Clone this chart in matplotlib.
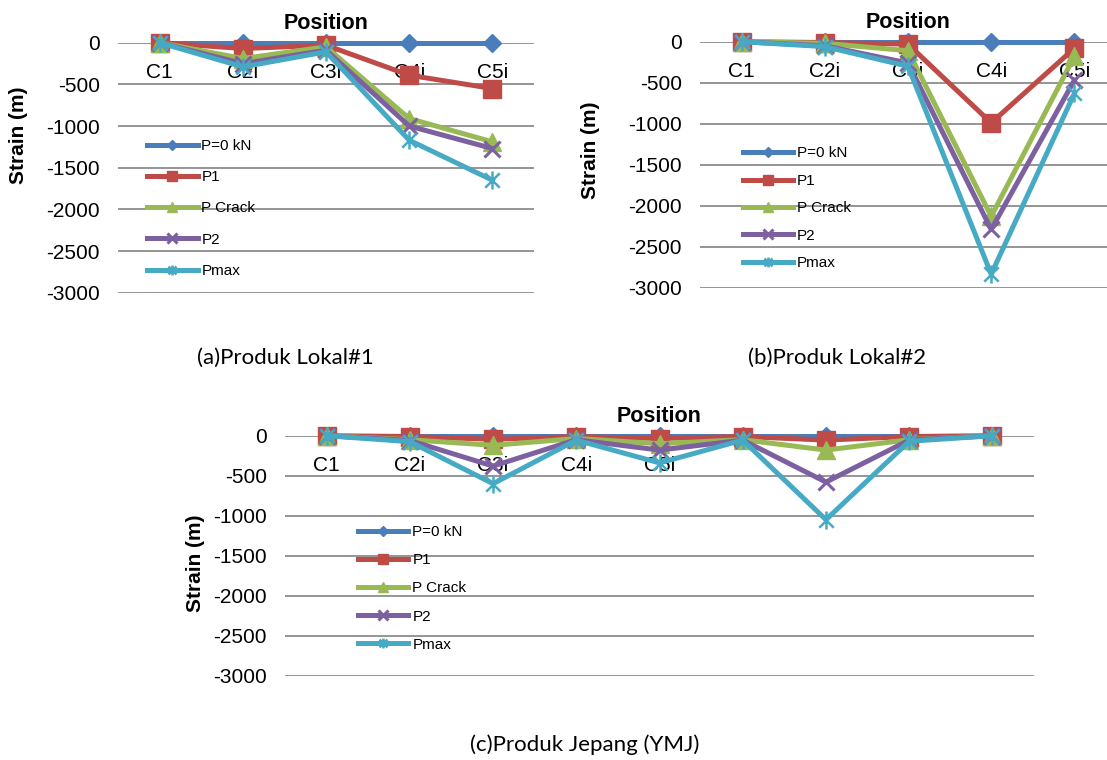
import matplotlib
matplotlib.use("Agg")
import matplotlib.pyplot as plt
from matplotlib.path import Path

# ---------------- data ----------------
series_names = ["P=0 kN", "P1", "P Crack", "P2", "Pmax"]

cats_a = ["C1", "C2i", "C3i", "C4i", "C5i"]
a_p0 = [0, 0, 0, 0, 0]
a_p1 = [0, -70, -30, -390, -550]
a_pcrack = [0, -190, -50, -910, -1190]
a_p2 = [0, -250, -90, -1000, -1270]
a_pmax = [0, -290, -110, -1170, -1650]

cats_b = ["C1", "C2i", "C3i", "C4i", "C5i"]
b_p0 = [0, 0, 0, 0, 0]
b_p1 = [0, -10, -30, -990, -80]
b_pcrack = [0, -20, -110, -2130, -180]
b_p2 = [0, -50, -260, -2290, -470]
b_pmax = [0, -60, -300, -2835, -630]

cats_c = ["C1", "C2i", "C3i", "C4i", "C5i", "", "", "", ""]
c_p0 = [0, 0, 0, 0, 0, 0, 0, 0, 0]
c_p1 = [0, -10, -45, -10, -35, -10, -55, -10, 0]
c_pcrack = [0, -50, -120, -35, -100, -50, -180, -50, 0]
c_p2 = [0, -60, -380, -50, -180, -55, -580, -55, 0]
c_pmax = [0, -75, -600, -55, -340, -55, -1050, -70, 0]

yticks = [0, -500, -1000, -1500, -2000, -2500, -3000]
captions = ["(a)Produk Lokal#1", "(b)Produk Lokal#2", "(c)Produk Jepang (YMJ)"]

# ---------------- style ----------------
plt.rcParams['font.family'] = ['Liberation Sans', 'DejaVu Sans']
colors = ["#4A7EBB", "#BE4B48", "#98B954", "#7D60A0", "#46AAC5"]
asterisk = Path([(-1, -1), (1, 1), (-1, 1), (1, -1), (0, -1.25), (0, 1.25)],
                [Path.MOVETO, Path.LINETO] * 3)
marker_kw = [
    dict(marker="D", markersize=9.5, mfc=colors[0], mec=colors[0]),
    dict(marker="s", markersize=13, mfc=colors[1], mec=colors[1]),
    dict(marker="^", markersize=13, mfc=colors[2], mec=colors[2]),
    dict(marker="x", markersize=12, mec=colors[3], mew=2.2),
    dict(marker=asterisk, markersize=13, mfc="none", mec=colors[4], mew=1.8),
]

fig = plt.figure(figsize=(11.07, 7.6), dpi=100)
W, H = 1107.0, 760.0


def make_axes(left, top, width, height):
    return fig.add_axes([left / W, 1 - (top + height) / H, width / W, height / H])


def draw_panel(ax, cats, data, legend_xy, label_xy, spacing):
    x = list(range(len(cats)))
    for i, (name, vals) in enumerate(zip(series_names, data)):
        ax.plot(x, vals, color=colors[i], lw=3.6, label=name, zorder=3 + i,
                clip_on=False, **marker_kw[i])
    ax.set_xlim(-0.5, len(cats) - 0.5)
    ax.set_ylim(-3000, 0)
    ax.set_yticks(yticks)
    ax.set_yticklabels([str(v) for v in yticks])
    ax.set_xticks(x)
    ax.set_xticklabels(cats)
    ax.xaxis.set_ticks_position('top')
    ax.tick_params(axis='x', length=0, pad=-28, labelsize=15)
    ax.tick_params(axis='y', length=0, pad=13, labelsize=15)
    for s in ax.spines.values():
        s.set_visible(False)
    ax.yaxis.grid(True, color="#8C8C8C", lw=1.3)
    ax.set_axisbelow(True)
    ax.set_title("Position", fontsize=15.5, fontweight="bold", pad=10)
    ax.set_ylabel("Strain (m)", fontsize=15, fontweight="bold")
    ax.yaxis.set_label_coords(*label_xy)
    ax.legend(loc="upper left", bbox_to_anchor=legend_xy, frameon=False,
              fontsize=11, handlelength=3.3, handletextpad=0.25,
              labelspacing=spacing, borderpad=0, borderaxespad=0,
              markerscale=0.55)


ax_a = make_axes(118, 42.7, 416, 250)
draw_panel(ax_a, cats_a, [a_p0, a_p1, a_pcrack, a_p2, a_pmax],
           (0.07, 0.615), (-0.217, 0.63), 1.13)

ax_b = make_axes(700, 41.7, 416, 246)
draw_panel(ax_b, cats_b, [b_p0, b_p1, b_pcrack, b_p2, b_pmax],
           (0.103, 0.574), (-0.24, 0.56), 0.88)

ax_c = make_axes(285, 435.7, 749, 240)
draw_panel(ax_c, cats_c, [c_p0, c_p1, c_pcrack, c_p2, c_pmax],
           (0.0975, 0.628), (-0.107, 0.47), 0.93)

cap_kw = dict(fontsize=16, family=['Lato', 'DejaVu Sans'], ha='center', va='center')
fig.text(285 / W, 1 - 358 / H, captions[0], **cap_kw)
fig.text(837 / W, 1 - 358 / H, captions[1], **cap_kw)
fig.text(585 / W, 1 - 745 / H, captions[2], **cap_kw)

fig.savefig("out.png", dpi=100)
